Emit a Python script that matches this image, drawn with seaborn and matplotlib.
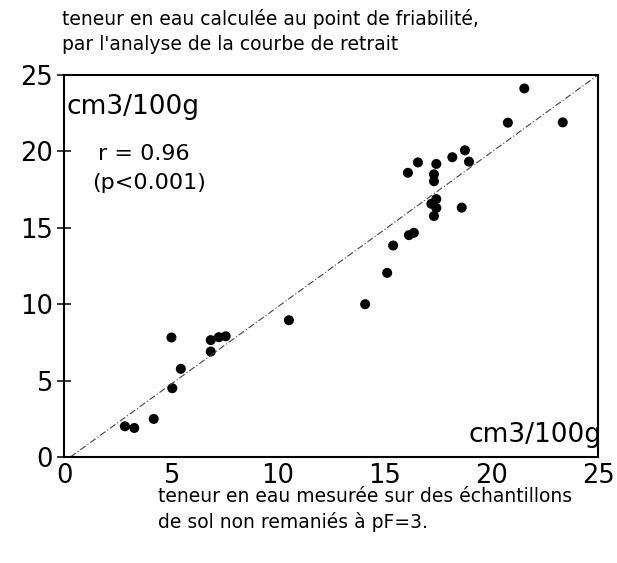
import matplotlib
matplotlib.use("Agg")
import matplotlib.pyplot as plt
import seaborn as sns
import pandas as pd

# measured water content at pF=3 (x) vs computed at friability point (y), cm3/100g
measured = [2.85, 3.29, 4.20, 5.07, 5.03, 5.47, 6.87, 6.87, 7.25, 7.57,
            10.53, 14.10, 15.13, 15.41, 16.15, 16.38, 16.10, 16.57, 17.43, 17.32,
            17.32, 18.18, 18.77, 18.96, 17.43, 17.20, 17.43, 17.32, 18.62, 20.78,
            21.55, 23.35]
computed = [2.01, 1.90, 2.49, 4.50, 7.82, 5.77, 6.90, 7.65, 7.84, 7.90,
            8.95, 10.00, 12.05, 13.84, 14.52, 14.67, 18.60, 19.28, 19.18, 18.50,
            18.05, 19.62, 20.07, 19.33, 16.88, 16.57, 16.30, 15.77, 16.32, 21.88,
            24.12, 21.90]
line_x = [0.3, 25.0]
line_y = [0.0, 25.0]
ticks = [0, 5, 10, 15, 20, 25]

sns.set_style("white")
plt.rcParams["font.family"] = ["DejaVu Sans"]
plt.rcParams["text.color"] = "black"
plt.rcParams["xtick.color"] = "black"
plt.rcParams["ytick.color"] = "black"
plt.rcParams["xtick.labelcolor"] = "black"
plt.rcParams["ytick.labelcolor"] = "black"

df = pd.DataFrame({"measured": measured, "computed": computed})

fig = plt.figure(figsize=(6.17, 5.63), dpi=100)
ax = fig.add_axes([64/617, 1-457/563, (598-64)/617, (457-75)/563])

ax.plot(line_x, line_y, color="#444444", lw=0.8, linestyle=(0, (6, 2, 1, 2)))
sns.scatterplot(data=df, x="measured", y="computed", ax=ax, color="black",
                s=52, edgecolor="none", legend=False)

ax.set_xlim(0, 25)
ax.set_ylim(0, 25)
ax.set_xticks(ticks)
ax.set_yticks(ticks)
ax.set_xticklabels([str(t) for t in ticks], fontsize=18.5, color="black")
ax.set_yticklabels([str(t) for t in ticks], fontsize=18.5, color="black")
ax.tick_params(axis="y", direction="inout", length=10, width=1.1, pad=3,
               left=True, color="black")
ax.tick_params(axis="x", length=0, pad=4)
ax.set_xlabel("")
ax.set_ylabel("")
for sp in ax.spines.values():
    sp.set_visible(True)
    sp.set_color("black")
    sp.set_linewidth(1.5)

fig.text(67/617, 1-107/563, "cm3/100g", fontsize=19, ha="left", va="center", color="black")
fig.text(601/617, 1-435/563, "cm3/100g", fontsize=19, ha="right", va="center", color="black")
fig.text(98/617, 1-154/563, "r = 0.96", fontsize=16, ha="left", va="center", color="black")
fig.text(92/617, 1-183/563, "(p<0.001)", fontsize=16, ha="left", va="center", color="black")

fig.text(62/617, 1-19/563, "teneur en eau calculée au point de friabilité,",
         fontsize=13.5, ha="left", va="center", color="black")
fig.text(62/617, 1-45/563, "par l'analyse de la courbe de retrait",
         fontsize=13.5, ha="left", va="center", color="black")
fig.text(158/617, 1-496/563, "teneur en eau mesurée sur des échantillons",
         fontsize=13.5, ha="left", va="center", color="black")
fig.text(158/617, 1-522/563, "de sol non remaniés à pF=3.",
         fontsize=13.5, ha="left", va="center", color="black")

fig.savefig("out.png", dpi=100)
